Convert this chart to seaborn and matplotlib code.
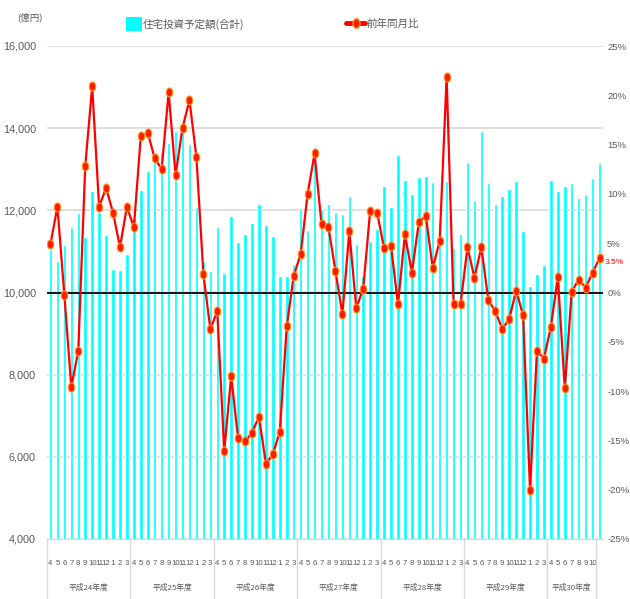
import matplotlib
matplotlib.use("Agg")
import matplotlib.pyplot as plt
import matplotlib.transforms as mtransforms
from matplotlib.path import Path
from matplotlib.patches import Patch
from matplotlib.lines import Line2D
import seaborn as sns
import pandas as pd

# 住宅投資予定額(合計) 億円, 平成24年4月 ～
amount = [11050, 10770, 11160, 11600, 11930, 11350, 12470, 11970, 11400, 10575, 10550, 10940,
          11810, 12490, 12960, 13180, 13420, 13640, 13930, 13900, 13620, 12070, 10770, 10530,
          11600, 10480, 11860, 11230, 11430, 11700, 12160, 11650, 11380, 10390, 10390, 10700,
          12060, 11520, 13540, 12030, 12160, 11960, 11910, 12350, 11180, 10390, 11260, 11550,
          12600, 12080, 13350, 12740, 12400, 12810, 12840, 12690, 11740, 12710, 11090, 11430,
          13180, 12250, 13930, 12670, 12160, 12350, 12520, 12710, 11500, 10170, 10440, 10660,
          12740, 12470, 12600, 12670, 12300, 12400, 12790, 13150]

# 前年同月比 (%)
yoy = [4.9, 8.7, -0.3, -9.6, -5.9, 12.8, 20.9, 8.7, 10.6, 8.1, 4.6, 8.7,
       6.6, 15.9, 16.2, 13.6, 12.5, 20.3, 11.9, 16.7, 19.5, 13.7, 1.9, -3.7,
       -1.9, -16.1, -8.5, -14.8, -15.1, -14.2, -12.6, -17.4, -16.4, -14.1, -3.4, 1.7,
       3.9, 10.0, 14.1, 6.9, 6.6, 2.2, -2.2, 6.2, -1.6, 0.4, 8.3, 8.1,
       4.5, 4.7, -1.2, 5.9, 2.0, 7.1, 7.8, 2.5, 5.2, 21.9, -1.2, -1.2,
       4.6, 1.5, 4.6, -0.8, -1.9, -3.7, -2.7, 0.2, -2.3, -20.0, -5.9, -6.7,
       -3.5, 1.6, -9.7, 0.1, 1.3, 0.5, 2.0, 3.5]

fiscal_months = ['4', '5', '6', '7', '8', '9', '10', '11', '12', '1', '2', '3']
month_labels = fiscal_months * 6 + fiscal_months[:7] + ['']
year_labels = ['平成24年度', '平成25年度', '平成26年度', '平成27年度', '平成28年度', '平成29年度', '平成30年度']
year_lengths = [12, 12, 12, 12, 12, 12, 7]

df = pd.DataFrame({'idx': range(len(amount)), 'amount': amount, 'yoy': yoy})

sns.set_style("white")
JP = ['Noto Sans CJK JP', 'DejaVu Sans']
plt.rcParams['font.family'] = ['Liberation Sans', 'DejaVu Sans']
GREY = '#595959'

fig = plt.figure(figsize=(6.3, 5.99), dpi=100)
ax = fig.add_axes([47 / 630, 1 - 539 / 599, 556 / 630, 493 / 599])

sns.barplot(data=df, x='idx', y='amount', color='#00FFFF', saturation=1,
            width=0.5, ax=ax, zorder=2)
ax.set_xlim(-0.5, len(amount) - 0.5)
ax.set_ylim(4000, 16000)
ax.set_yticks(range(4000, 16001, 2000))
ax.set_yticklabels([f'{v:,}' for v in range(4000, 16001, 2000)])
ax.yaxis.grid(True, color='#D9D9D9', lw=1.2, zorder=0)
ax.set_axisbelow(True)
ax.set_xlabel('')
ax.set_ylabel('')
ax.set_xticks(range(len(amount)))
ax.set_xticklabels(month_labels)
ax.tick_params(axis='x', length=0, pad=15, labelsize=5.6, colors=GREY)
ax.tick_params(axis='y', length=0, pad=8, labelsize=7.8, colors=GREY)
for s in ['top', 'left', 'right']:
    ax.spines[s].set_visible(False)
ax.spines['bottom'].set_color('#D9D9D9')

# 年度の区切り線と年度ラベル
trans = mtransforms.blended_transform_factory(ax.transData, ax.transAxes)
start = -0.5
for lab, n in zip(year_labels, year_lengths):
    ax.plot([start, start], [0, -0.122], transform=trans, color='#D9D9D9',
            lw=1, clip_on=False)
    ax.text(start + n / 2, -0.1, lab, transform=trans, ha='center', va='center',
            fontsize=5.6, color=GREY, family=JP)
    start += n
ax.plot([start, start], [0, -0.122], transform=trans, color='#D9D9D9', lw=1, clip_on=False)

ax2 = ax.twinx()
ax2.set_ylim(-25, 25)
ax2.set_yticks(range(-25, 26, 5))
ax2.set_yticklabels([f'{v}%' for v in range(-25, 26, 5)])
ax2.tick_params(axis='y', length=0, pad=3, labelsize=6.8, colors=GREY)
for s in ax2.spines.values():
    s.set_visible(False)
ax2.axhline(0, color='black', lw=1.3, zorder=1)

ellipse = Path.unit_circle().transformed(mtransforms.Affine2D().scale(0.72, 1.0))
sns.lineplot(data=df, x='idx', y='yoy', ax=ax2, color='#FF0000', lw=1.6,
             marker=ellipse, markersize=6.5, markerfacecolor='#FF1A00',
             markeredgecolor='#FF9A1A', markeredgewidth=0.8, zorder=3)
ax2.set_xlabel('')
ax2.set_ylabel('')

ax2.annotate(f'{yoy[-1]}%', xy=(df['idx'].iloc[-1], yoy[-1]), xytext=(4, -3),
             textcoords='offset points', color='#FF0000', fontsize=6, va='center')

fig.text(17 / 630, 1 - 17 / 599, '(億円)', family=JP, fontsize=6.8, color=GREY, va='center')

leg1 = fig.legend(handles=[Patch(facecolor='#00FFFF', edgecolor='none')],
                  labels=['住宅投資予定額(合計)'], loc='center left',
                  bbox_to_anchor=(121 / 630, 1 - 24 / 599), frameon=False,
                  handlelength=1.45, handleheight=1.6, handletextpad=0.15,
                  borderpad=0, prop={'family': JP, 'size': 7.6}, labelcolor=GREY)
leg2 = fig.legend(handles=[Line2D([], [], color='#FF0000', lw=3.5, marker=ellipse,
                                  markersize=7, markerfacecolor='#FF1A00',
                                  markeredgecolor='#FF9A1A')],
                  labels=['前年同月比'], loc='center left',
                  bbox_to_anchor=(341 / 630, 1 - 24 / 599), frameon=False,
                  handlelength=1.8, handletextpad=0.1, borderpad=0,
                  prop={'family': JP, 'size': 7.6}, labelcolor=GREY)

fig.savefig('out.png', dpi=100)
